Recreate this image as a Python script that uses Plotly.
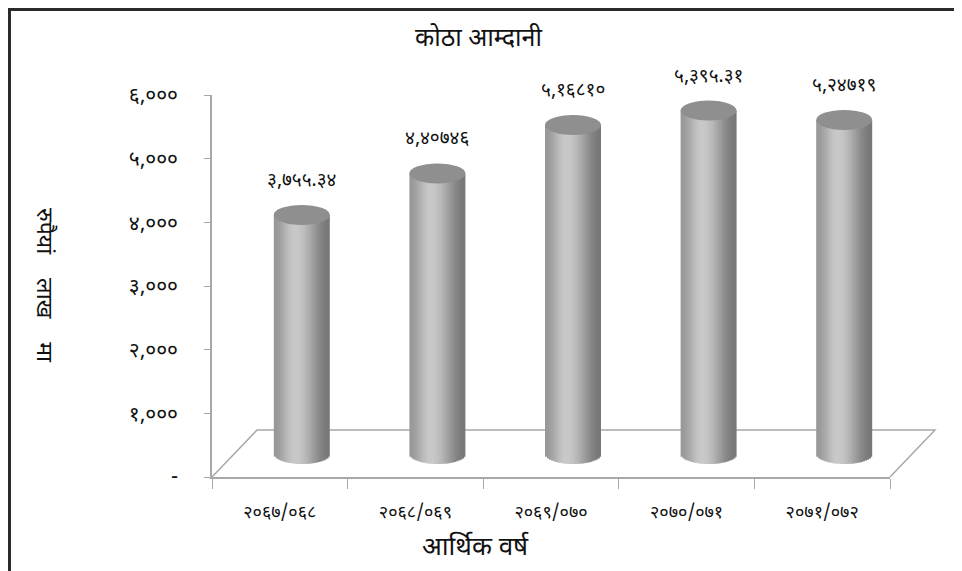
import math
import plotly.graph_objects as go

# ---------------- data ----------------
categories = ["२०६७/०६८", "२०६८/०६९", "२०६९/०७०", "२०७०/०७१", "२०७१/०७२"]
values = [3755.34, 4407.46, 5168.10, 5395.31, 5247.19]
value_labels = ["३,७५५.३४", "४,४०७४६", "५,१६८१०", "५,३९५.३१", "५,२४७१९"]
y_tickvals = [0, 1000, 2000, 3000, 4000, 5000, 6000]
y_ticktext = ["-", "१,०००", "२,०००", "३,०००", "४,०००", "५,०००", "६,०००"]
title_text = "कोठा आम्दानी"
x_title = "आर्थिक वर्ष"
y_title = "रुपैयां\u00a0\u00a0\u00a0\u00a0लाख\u00a0\u00a0\u00a0\u00a0मा"

# ---------------- geometry ----------------
W, H = 962, 571
OFF = 8                      # page body margin
PL, PR, PT, PB = 212, 890, 95, 477   # plot area in page pixels
L, T = PL - OFF, PT - OFF
R = W + OFF - PR
B = H + OFF - PB
PW, PH = PR - PL, PB - PT
YMAX = 6000
ncat = len(categories)
cat_per_px = ncat / PW
u_per_px = YMAX / PH

dx_cat = 22 * cat_per_px      # depth shift of bars (right)
dy_u = 23 * u_per_px          # depth shift of bars (up)
bw = 56 * cat_per_px          # bar width
half = 10 * u_per_px          # half height of top/bottom ellipse

FONT = "Noto Sans Devanagari, Noto Sans, DejaVu Sans, sans-serif"


def px_x(p):
    return (p - PL) / PW


def px_y(p):
    return (PB - p) / PH


def shade(t):
    if t < 0.38:
        a = 0.5 - 0.5 * math.cos(math.pi * t / 0.38)
        v = 152 + (200 - 152) * a
    else:
        a = 0.5 - 0.5 * math.cos(math.pi * (t - 0.38) / 0.62)
        v = 200 + (120 - 200) * a
    v = int(round(v))
    return f"rgb({v},{v},{v})"


fig = go.Figure()
N = 28
for k in range(N):
    tl = k / N
    tc = (k + 0.5) / N
    u = 2 * tc - 1
    depth = half * math.sqrt(max(0.0, 1 - u * u))
    w = min(bw / N * 1.4, bw - tl * bw)
    fig.add_trace(go.Bar(
        x=categories,
        y=[v + depth for v in values],
        base=[dy_u - depth] * ncat,
        width=w,
        offset=dx_cat - bw / 2 + tl * bw,
        marker=dict(color=shade(tc), line=dict(width=0)),
        showlegend=False,
        hoverinfo="skip",
    ))

shapes = []
fx = 45 / PW
fy = 47 / PH
shapes.append(dict(type="path", xref="paper", yref="paper",
                   path=f"M 0 0 L {fx} {fy} L {1 + fx} {fy} L 1 0",
                   line=dict(color="#a8a8a8", width=1.5), layer="below"))
for i, v in enumerate(values):
    shapes.append(dict(type="circle", xref="x", yref="y",
                       x0=i + dx_cat - bw / 2, x1=i + dx_cat + bw / 2,
                       y0=v + dy_u - half, y1=v + dy_u + half,
                       fillcolor="#8f8f8f", line=dict(width=0), layer="above"))
# frame: top + left border (just inside the figure edge)
bx = px_x(OFF + 1.5)
by = px_y(OFF + 1.5)
shapes.append(dict(type="path", xref="paper", yref="paper",
                   path=f"M {bx} -1 L {bx} {by} L 2 {by}",
                   line=dict(color="#2a2a2a", width=3)))

annotations = []
for i, (v, lab) in enumerate(zip(values, value_labels)):
    annotations.append(dict(x=i + dx_cat, y=v + dy_u + half, xref="x", yref="y",
                            text=lab, showarrow=False, yanchor="bottom", yshift=9,
                            font=dict(family=FONT, size=19, color="#111")))
annotations.append(dict(x=px_x(478), y=px_y(40), xref="paper", yref="paper",
                        text=title_text, showarrow=False, xanchor="center", yanchor="middle",
                        font=dict(family=FONT, size=25, color="#111")))
annotations.append(dict(x=px_x(475), y=px_y(548), xref="paper", yref="paper",
                        text=x_title, showarrow=False, xanchor="center", yanchor="middle",
                        font=dict(family=FONT, size=26, color="#111")))
annotations.append(dict(x=px_x(43), y=px_y(285), xref="paper", yref="paper",
                        text=y_title, showarrow=False, textangle=90,
                        xanchor="center", yanchor="middle",
                        font=dict(family=FONT, size=23, color="#111")))

fig.update_layout(
    width=W, height=H,
    margin=dict(l=L, r=R, t=T, b=B, pad=0),
    paper_bgcolor="white", plot_bgcolor="white",
    barmode="overlay",
    shapes=shapes, annotations=annotations,
    xaxis=dict(type="category", range=[-0.5, ncat - 0.5],
               showline=True, linecolor="#a8a8a8", linewidth=1.5,
               ticks="outside", tickson="boundaries", ticklen=10, tickcolor="#a8a8a8",
               ticklabelstandoff=18,
               showgrid=False, zeroline=False,
               tickfont=dict(family=FONT, size=18, color="#111")),
    yaxis=dict(range=[0, YMAX], tickvals=y_tickvals, ticktext=y_ticktext,
               showline=True, linecolor="#a8a8a8", linewidth=1.5,
               ticks="outside", ticklen=6, tickcolor="#a8a8a8",
               ticklabelstandoff=22,
               showgrid=False, zeroline=False,
               tickfont=dict(family=FONT, size=21, color="#111")),
)

fig.write_html("out.html")
